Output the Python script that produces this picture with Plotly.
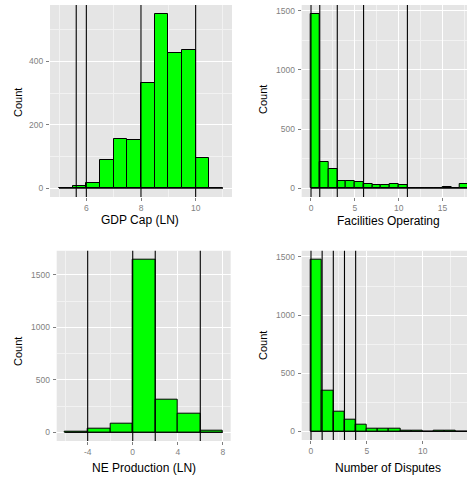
import numpy as np
import plotly.graph_objects as go

# ---- histogram data (bin edges + counts) ----
gdp_edges = [5.0, 5.5, 6.0, 6.5, 7.0, 7.5, 8.0, 8.5, 9.0, 9.5, 10.0, 10.5, 11.0]
gdp_counts = [0, 7, 16, 90, 155, 152, 333, 550, 427, 437, 94, 0]
gdp_vlines = [5.63, 6.0, 8.0, 10.0]

fac_edges = list(range(0, 19))
fac_counts = [1475, 224, 161, 59, 59, 51, 37, 25, 25, 34, 27, 0, 0, 0, 0, 15, 0, 36]
fac_vlines = [0, 1, 3, 6, 11]

nep_edges = [-6, -4, -2, 0, 2, 4, 6, 8]
nep_counts = [8, 38, 79, 1648, 313, 177, 19]
nep_vlines = [-4, 0, 2, 6]

dis_edges = list(range(0, 15))
dis_counts = [1480, 352, 173, 102, 57, 22, 22, 22, 6, 6, 0, 8, 8, 0]
dis_vlines = [0, 1, 2, 3, 4]

titles = ["GDP Cap (LN)", "Facilities Operating", "NE Production (LN)", "Number of Disputes"]

W, H = 467, 479
FONT = "Liberation Sans, Arial, sans-serif"
BAR_FILL = "#00FF00"
PANEL_BG = "#E5E5E5"
TICK_GREY = "#7F7F7F"


def xdom(a, b):
    return [a / W, b / W]


def ydom(top, bottom):
    return [1 - bottom / H, 1 - top / H]


panels = [
    dict(edges=gdp_edges, counts=gdp_counts, vlines=gdp_vlines,
         box=(50, 232, 5, 197), xr=[4.67, 11.33],
         xmaj=dict(tick0=6, dtick=2), xmin=1, ymaj=200, ymin=100,
         title_xy=(140, 220), ytitle_xy=(18, 103)),
    dict(edges=fac_edges, counts=fac_counts, vlines=fac_vlines,
         box=(301.7, 467, 5, 197), xr=[-1.06, 17.8],
         xmaj=dict(tick0=0, dtick=5), xmin=2.5, ymaj=500, ymin=250,
         title_xy=(388, 221), ytitle_xy=(263, 100)),
    dict(edges=nep_edges, counts=nep_counts, vlines=nep_vlines,
         box=(56.7, 230.7, 250.7, 441), xr=[-6.75, 8.7],
         xmaj=dict(tick0=0, dtick=4), xmin=2, ymaj=500, ymin=250,
         title_xy=(144, 468), ytitle_xy=(18, 352)),
    dict(edges=dis_edges, counts=dis_counts, vlines=dis_vlines,
         box=(301.7, 467, 250.7, 440), xr=[-0.83, 13.97],
         xmaj=dict(tick0=0, dtick=5), xmin=2.5, ymaj=500, ymin=250,
         title_xy=(388, 468), ytitle_xy=(263, 346)),
]

fig = go.Figure()
shapes = []
annotations = []
layout_axes = {}

for i, p in enumerate(panels, start=1):
    xa = "x" if i == 1 else f"x{i}"
    ya = "y" if i == 1 else f"y{i}"
    edges = np.array(p["edges"], dtype=float)
    counts = np.array(p["counts"], dtype=float)
    bw = edges[1] - edges[0]
    centers = edges[:-1] + bw / 2

    fig.add_trace(go.Bar(
        x=centers, y=counts, width=bw,
        marker=dict(color=BAR_FILL, line=dict(color="black", width=1)),
        xaxis=xa, yaxis=ya, showlegend=False, hoverinfo="x+y",
    ))
    # outline along the baseline for empty bins
    fig.add_trace(go.Scatter(
        x=[edges[0], edges[-1]], y=[0, 0], mode="lines",
        line=dict(color="black", width=1),
        xaxis=xa, yaxis=ya, showlegend=False, hoverinfo="skip",
    ))

    for v in p["vlines"]:
        shapes.append(dict(type="line", xref=xa, yref=f"{ya} domain",
                           x0=v, x1=v, y0=0, y1=1,
                           line=dict(color="black", width=1.1), layer="above"))

    ymax = counts.max()
    x0, x1, top, bottom = p["box"]
    neg_ticks = p["xmaj"]["tick0"] - p["xmaj"]["dtick"] * 3
    tvals = [t for t in np.arange(neg_ticks, p["xr"][1] + 1e-9, p["xmaj"]["dtick"])
             if p["xr"][0] <= t <= p["xr"][1]]
    tvals = [int(t) if float(t).is_integer() else t for t in tvals]

    axis_common = dict(
        showline=False, zeroline=False, ticks="outside", ticklen=3,
        tickcolor=TICK_GREY, tickwidth=1,
        tickfont=dict(family=FONT, size=8.5, color=TICK_GREY),
        showgrid=True, gridcolor="white", gridwidth=1,
    )
    layout_axes["xaxis" if i == 1 else f"xaxis{i}"] = dict(
        axis_common, domain=xdom(x0, x1), range=p["xr"], anchor=ya,
        tickmode="array", tickvals=tvals, ticktext=[str(t) for t in tvals],
        minor=dict(showgrid=True, gridcolor="#F2F2F2", gridwidth=0.6,
                   tick0=0, dtick=p["xmin"], ticks=""),
    )
    layout_axes["yaxis" if i == 1 else f"yaxis{i}"] = dict(
        axis_common, domain=ydom(top, bottom),
        range=[-0.05 * ymax, 1.05 * ymax], anchor=xa,
        tick0=0, dtick=p["ymaj"], ticklabelstandoff=1,
        minor=dict(showgrid=True, gridcolor="#F2F2F2", gridwidth=0.6,
                   tick0=0, dtick=p["ymin"], ticks=""),
    )

    shapes.insert(0, dict(type="rect", xref="paper", yref="paper",
                          x0=x0 / W, x1=x1 / W, y0=1 - bottom / H, y1=1 - top / H,
                          fillcolor=PANEL_BG, line=dict(width=0), layer="below"))

    tx, ty = p["title_xy"]
    annotations.append(dict(text=titles[i - 1], x=tx / W, y=1 - ty / H,
                            xref="paper", yref="paper", showarrow=False,
                            xanchor="center", yanchor="middle",
                            font=dict(family=FONT, size=12, color="black")))
    cx, cy = p["ytitle_xy"]
    annotations.append(dict(text="Count", x=cx / W, y=1 - cy / H,
                            xref="paper", yref="paper", showarrow=False,
                            textangle=-90, xanchor="center", yanchor="middle",
                            font=dict(family=FONT, size=11, color="black")))

fig.update_layout(
    width=W, height=H, margin=dict(l=0, r=0, t=0, b=0),
    paper_bgcolor="white", plot_bgcolor="rgba(0,0,0,0)",
    bargap=0, shapes=shapes, annotations=annotations,
    font=dict(family=FONT),
    **layout_axes,
)

fig.write_html("out.html")
